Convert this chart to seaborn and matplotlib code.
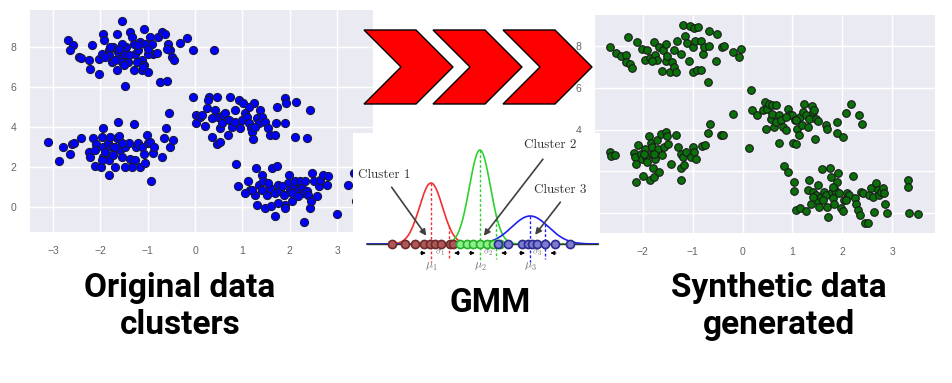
import numpy as np
import pandas as pd
import matplotlib
matplotlib.use("Agg")
import matplotlib.pyplot as plt
import seaborn as sns
from matplotlib.patches import Polygon

# ---------------- data ----------------
# left panel: original clusters
orig_x = [-1.55,-2.68,-2.59,-2.64,-2.46,-2.41,-2.24,-2.22,-2.04,-2.17,-1.94,-1.92,-1.83,-1.82,-1.76,-1.65,-1.62,-1.58,-1.70,-1.49,
          -1.46,-1.37,-1.34,-1.30,-1.41,-1.30,-1.27,-1.20,-1.16,-1.09,-1.06,-1.13,-1.13,-0.99,-0.95,-0.92,-0.88,-0.79,-0.70,-0.63,
          -0.58,-0.54,-0.49,-0.44,-0.74,-0.60,-1.48,-0.32,-0.18,-0.04,0.39,-2.04,-1.97,-1.73,-1.55,-1.65,-1.54,-1.23,-1.09,-0.99,
          -1.80,-1.60,-1.40,-1.20,-1.00,-0.80,-1.90,-1.50,-1.10,-0.60,
          -3.11,-2.87,-2.80,-2.64,-2.61,-2.55,-2.41,-2.24,-2.22,-2.15,-2.11,-2.10,-1.99,-1.97,-1.94,-1.94,-1.94,-1.90,-1.83,-1.85,
          -1.82,-1.76,-1.73,-1.69,-1.65,-1.62,-1.61,-1.58,-1.55,-1.49,-1.48,-1.39,-1.37,-1.30,-1.27,-1.25,-1.20,-1.16,-1.13,-1.09,
          -1.06,-1.01,-0.99,-0.95,-0.93,-0.90,-0.86,-0.70,-0.65,-0.61,-0.56,-0.53,-0.46,-1.97,-1.69,-2.11,-1.80,-1.55,-1.34,
          -0.04,0.01,0.01,0.11,0.21,0.30,0.35,0.42,0.46,0.46,0.48,0.53,0.53,0.56,0.60,0.63,0.69,0.72,0.74,0.77,
          0.85,0.93,0.95,0.99,1.02,1.06,1.09,1.13,1.18,1.21,1.23,1.25,1.30,1.34,1.37,1.41,1.48,1.54,1.58,1.68,
          1.73,1.90,1.92,1.90,2.13,2.11,2.36,2.43,1.70,0.25,0.14,0.35,0.85,1.13,1.27,0.28,
          0.86,0.90,1.11,1.16,1.27,1.28,1.30,1.34,1.41,1.44,1.48,1.51,1.58,1.61,1.63,1.68,1.69,1.73,1.76,1.80,
          1.87,1.89,1.90,1.96,1.99,2.01,2.04,2.08,2.11,2.15,2.22,2.25,2.29,2.32,2.36,2.39,2.43,2.45,2.48,2.52,
          2.57,2.61,2.64,2.71,2.78,2.80,2.31,2.99,3.24,3.35,1.06,1.21,1.55,1.83,2.04,2.18,1.76,1.41,3.42,3.40]
orig_y = [9.29,8.37,8.08,7.87,7.50,7.47,7.34,6.92,6.67,8.08,8.66,8.33,7.83,7.59,7.25,8.66,7.75,7.42,7.34,7.67,
          8.00,8.75,8.50,8.17,7.25,6.84,7.67,7.83,8.25,8.91,8.17,7.34,6.84,6.76,8.50,8.17,7.67,8.50,8.75,8.66,
          8.17,7.83,7.50,7.34,6.26,6.31,6.04,8.20,8.46,7.83,7.83,7.42,7.67,8.00,8.17,6.84,7.25,7.25,7.09,7.67,
          8.00,7.90,7.60,8.10,7.90,7.70,7.50,7.10,7.00,7.90,
          3.27,2.31,3.02,2.66,3.15,3.19,3.44,2.77,2.52,3.44,2.06,3.15,2.02,3.52,3.93,3.02,2.52,2.77,1.61,3.19,
          2.36,3.02,2.61,2.02,3.44,4.27,3.55,2.85,2.52,2.02,3.02,3.19,2.39,4.15,2.36,3.02,3.19,2.02,3.02,2.66,
          2.19,3.60,3.19,3.27,1.28,2.69,3.02,2.52,3.44,3.93,4.68,3.02,3.35,2.36,3.02,2.85,3.52,3.19,2.02,
          5.48,4.60,4.18,4.51,4.05,5.48,3.52,4.85,3.15,5.48,4.51,3.27,3.93,4.18,4.60,4.71,3.60,4.35,5.48,4.02,
          4.27,5.34,3.93,4.35,5.18,4.68,4.51,4.18,3.93,3.77,3.39,5.18,4.43,4.22,4.85,4.51,4.27,3.93,3.60,3.60,
          5.01,5.43,5.18,4.18,5.26,3.49,3.44,4.85,4.22,4.93,4.60,4.43,4.85,5.01,4.02,5.34,
          2.16,1.03,1.28,0.86,0.61,1.94,0.12,1.11,1.61,1.28,-0.05,0.61,0.95,0.03,1.94,0.70,-0.46,2.06,1.11,0.78,
          0.61,0.12,-0.05,1.20,1.61,0.86,0.28,1.11,1.28,0.78,1.28,0.95,0.70,1.28,0.78,0.61,-0.05,0.30,1.69,1.28,
          0.53,1.03,1.36,1.61,1.11,1.53,-0.76,-0.33,1.11,1.69,0.70,0.86,1.20,1.03,0.70,0.53,0.20,0.86,0.85,0.30]

# right panel: synthetic (GMM-sampled) points
synth_x = [-2.66,-2.53,-2.44,-2.34,-2.34,-2.29,-2.26,-2.22,-2.11,-2.01,-1.95,-1.91,-1.86,-1.77,-1.75,-1.71,-1.67,-1.62,-1.59,-1.54,
           -1.51,-1.46,-1.41,-1.37,-1.34,-1.37,-1.31,-1.24,-1.20,-1.15,-1.12,-1.08,-1.06,-1.00,-1.00,-0.97,-0.95,-0.90,-0.92,-0.84,
           -0.79,-0.84,-0.77,-0.70,-0.68,-0.67,-0.54,-0.52,-0.41,-0.37,-0.20,-0.08,-0.03,-1.81,-1.54,
           -2.66,-2.64,-2.56,-2.18,-2.16,-2.14,-2.13,-2.09,-2.04,-2.02,-1.99,-1.95,-1.94,-1.91,-1.87,-1.86,-1.84,-1.82,-1.81,-1.79,
           -1.77,-1.75,-1.71,-1.69,-1.67,-1.64,-1.61,-1.57,-1.53,-1.51,-1.49,-1.44,-1.33,-1.29,-1.24,-1.24,-1.24,-1.20,-1.17,-1.14,
           -1.04,-1.00,-0.97,-0.94,-0.82,-0.75,-0.70,-0.66,-0.44,-0.39,-0.20,0.13,-1.77,-1.97,
           0.17,0.19,0.28,0.40,0.44,0.47,0.50,0.54,0.57,0.60,0.60,0.64,0.67,0.68,0.74,0.74,0.77,0.82,0.87,0.92,
           0.94,1.00,1.02,1.06,1.07,1.10,1.14,1.15,1.19,1.22,1.24,1.27,1.31,1.34,1.39,1.41,1.44,1.47,1.46,1.51,
           1.67,1.69,1.89,1.89,2.01,2.07,2.18,2.34,2.40,0.87,1.07,
           0.84,0.92,1.04,1.04,1.07,1.15,1.27,1.31,1.34,1.37,1.42,1.47,1.49,1.51,1.53,1.57,1.59,1.64,1.67,1.69,
           1.71,1.75,1.77,1.79,1.81,1.84,1.86,1.89,1.91,1.94,1.97,2.01,2.04,2.09,2.14,2.22,2.26,2.28,2.31,2.36,
           2.38,2.41,2.46,2.51,2.54,2.58,2.61,2.64,2.68,2.71,2.74,2.78,2.81,2.84,2.86,2.89,3.31,3.31,3.33,3.51,
           1.41,1.81,2.07,1.61]
synth_y = [7.95,7.68,7.55,7.60,7.24,8.46,7.16,6.95,8.22,7.87,7.35,7.82,7.44,8.19,7.60,7.35,7.95,6.80,7.82,7.31,
           7.55,6.76,7.24,7.00,6.76,7.82,8.27,7.63,9.04,8.51,8.14,7.31,8.99,7.95,6.76,8.88,8.27,8.91,6.84,6.87,
           7.63,8.27,7.95,6.28,8.75,8.03,7.31,8.59,7.95,8.03,7.71,7.47,7.87,7.31,8.11,
           2.93,2.73,2.77,2.88,2.69,2.37,1.50,3.25,2.85,2.61,1.77,3.09,2.69,2.45,3.68,1.58,3.36,2.85,3.17,2.14,
           1.74,2.61,3.49,3.09,1.98,3.81,2.77,3.17,3.89,3.68,3.33,2.37,3.73,3.17,2.85,2.14,1.58,2.69,2.29,2.93,
           2.69,3.17,2.93,2.61,3.20,3.25,3.84,4.29,3.73,3.73,4.76,3.14,2.85,2.85,
           5.88,4.96,4.69,4.92,5.32,4.05,5.00,5.24,4.53,5.16,4.76,4.13,5.16,4.37,4.69,3.36,4.45,4.13,3.97,5.00,
           4.69,4.69,3.36,4.48,3.30,4.05,3.73,4.61,4.21,4.84,5.21,4.69,4.13,4.53,5.12,4.84,4.92,4.53,3.57,4.41,
           4.21,4.05,4.37,3.84,3.65,4.80,5.21,4.69,4.29,4.61,4.45,
           2.25,1.98,1.50,1.07,0.14,0.22,0.11,1.10,1.58,0.43,1.02,0.86,0.62,1.34,0.27,0.78,2.09,1.02,0.86,0.27,
           -0.18,2.18,1.74,1.02,0.70,0.43,1.10,1.50,1.90,0.94,0.22,0.11,0.62,0.97,0.86,1.77,0.70,0.43,0.14,-0.10,
           1.02,0.97,-0.46,-0.46,0.86,1.18,0.78,0.06,1.42,1.10,0.86,1.02,1.18,0.94,0.43,-0.02,1.58,1.26,-0.02,-0.05,
           0.78,1.26,0.62,0.62]

# centre diagram: 1-D Gaussian mixture
comp_names = ["Cluster 1", "Cluster 2", "Cluster 3"]
comp_mu = [0.0, 3.06, 6.2]
comp_sd = [0.72, 0.66, 1.15]
comp_peak = [61, 94, 28]
comp_sigma_mark = [1.12, 1.0, 0.94]
pts_c1 = [-2.46, -1.63, -1.0, -0.42, -0.06, 0.25, 0.63, 1.19, 1.39]
pts_c2 = [1.81, 2.23, 2.64, 3.06, 3.48, 3.89, 4.31]
pts_c3 = [4.21, 4.83, 5.67, 6.08, 6.29, 6.61, 7.13, 7.75, 8.69]

left_xticks = [-3, -2, -1, 0, 1, 2, 3]
right_xticks = [-2, -1, 0, 1, 2, 3]
yticks = [0, 2, 4, 6, 8]

# ---------------- figure ----------------
sns.set_theme(style="darkgrid")
plt.rcParams.update({
    "axes.facecolor": "#EAEAF2",
    "grid.color": "white",
    "grid.linewidth": 1.0,
    "xtick.color": "#666666",
    "ytick.color": "#666666",
    "xtick.labelsize": 7.5,
    "ytick.labelsize": 7.5,
    "xtick.major.pad": 4,
    "ytick.major.pad": 4,
    "mathtext.fontset": "cm",
})
plt.rcParams["font.family"] = ["DejaVu Sans"]

W, H = 953, 383
fig = plt.figure(figsize=(W / 100, H / 100), dpi=100)
fig.patch.set_facecolor("white")


def px_axes(x0, y0, x1, y1, **kw):
    return fig.add_axes([x0 / W, 1 - y1 / H, (x1 - x0) / W, (y1 - y0) / H], **kw)


def tick_text(v):
    return str(v).replace("-", "\u2212")


def style_panel(ax, xt):
    ax.set_xticks(xt, labels=[tick_text(v) for v in xt], family="Liberation Sans")
    ax.set_yticks(yticks, labels=[tick_text(v) for v in yticks], family="Liberation Sans")
    ax.set_xlabel("")
    ax.set_ylabel("")
    for s in ax.spines.values():
        s.set_visible(False)


# left panel
axL = px_axes(30, 10, 373, 232)
dfL = pd.DataFrame({"x": orig_x, "y": orig_y})
sns.scatterplot(data=dfL, x="x", y="y", ax=axL, color="#0000FF", s=34,
                edgecolor="#1a1a3a", linewidth=0.8, zorder=3)
axL.set_xlim(-3.49, 3.76)
axL.set_ylim(-1.25, 9.85)
style_panel(axL, left_xticks)

# right panel
axR = px_axes(595, 15, 935, 233)
dfR = pd.DataFrame({"x": synth_x, "y": synth_y})
sns.scatterplot(data=dfR, x="x", y="y", ax=axR, color="#0a700a", s=30,
                edgecolor="#1a1a1a", linewidth=0.8, zorder=3)
axR.set_xlim(-2.96, 3.86)
axR.set_ylim(-0.96, 9.5)
style_panel(axR, right_xticks)

# overlay in pixel coordinates (chevrons + captions)
ov = px_axes(0, 0, W, H, zorder=5)
ov.set_xlim(0, W)
ov.set_ylim(H, 0)
ov.axis("off")
ov.patch.set_alpha(0)


def chevron(x0, top, bot, width, depth):
    mid = (top + bot) / 2
    return [(x0, top), (x0 + width - depth, top), (x0 + width, mid),
            (x0 + width - depth, bot), (x0, bot), (x0 + depth, mid)]


for x0 in [364, 433, 503]:
    ov.add_patch(Polygon(chevron(x0, 30, 104, 89, 37), closed=True,
                         facecolor="#FF0000", edgecolor="black", linewidth=1.0))

cap_font = dict(family=["Roboto", "DejaVu Sans"],
                fontweight="bold", fontsize=24, color="black", ha="center", va="center")
ov.text(180, 288, "Original data", **cap_font)
ov.text(180, 325, "clusters", **cap_font)
ov.text(490, 303, "GMM", **cap_font)
ov.text(779, 288, "Synthetic data", **cap_font)
ov.text(779, 325, "generated", **cap_font)

# centre inset: 1-D GMM diagram
axG = px_axes(353, 133, 600, 280, zorder=6)
axG.set_facecolor("white")
axG.grid(False)
axG.set_xticks([])
axG.set_yticks([])
for s in axG.spines.values():
    s.set_visible(False)
axG.set_xlim((353 - 431) / 16, (600 - 431) / 16)
axG.set_ylim(-36, 111)

curve_cols = ["#F03030", "#30D030", "#2020F0"]
pt_face = ["#B05858", "#8CF08C", "#7C7CD0"]
pt_edge = ["#6E2A2A", "#28B028", "#2C2C90"]
xs = np.linspace(-4, 10.44, 600)
for mu, sd, pk, c in zip(comp_mu, comp_sd, comp_peak, curve_cols):
    sns.lineplot(x=xs, y=pk * np.exp(-0.5 * ((xs - mu) / sd) ** 2), ax=axG,
                 color=c, linewidth=1.2, zorder=2)
axG.plot([-4, 10.44], [0, 0], color="#333333", linewidth=1.0, zorder=3)

for i, (mu, sd, pk, sm, c) in enumerate(zip(comp_mu, comp_sd, comp_peak, comp_sigma_mark, curve_cols)):
    hsig = pk * np.exp(-0.5 * (sm / sd) ** 2)
    axG.plot([mu, mu], [pk, -18], color=c, linestyle=(0, (2, 1.5)), linewidth=1.0, zorder=2)
    axG.plot([mu + sm, mu + sm], [hsig, -15], color=c, linestyle=(0, (2, 1.5)), linewidth=1.0, zorder=2)
    axG.annotate("", xy=(mu - 0.15, -9), xytext=(mu - 0.85, -9),
                 arrowprops=dict(arrowstyle="-|>", color="black", lw=0.7, mutation_scale=6))
    axG.annotate("", xy=(mu + sm + 0.15, -9), xytext=(mu + sm + 0.85, -9),
                 arrowprops=dict(arrowstyle="-|>", color="black", lw=0.7, mutation_scale=6))
    axG.text(mu + sm / 2, -9, rf"$\sigma_{i + 1}$", fontsize=7, color="#777777",
             ha="center", va="center")
    axG.text(mu, -23, rf"$\mu_{i + 1}$", fontsize=8.5, color="#777777", ha="center", va="center")

for pts, fc, ec in zip([pts_c1, pts_c2, pts_c3], pt_face, pt_edge):
    sns.scatterplot(x=pts, y=[0] * len(pts), ax=axG, color=fc, edgecolor=ec,
                    linewidth=1.2, s=34, zorder=4)

lab_font = dict(family=["cmr10", "DejaVu Serif"], fontsize=9.5, color="#333333",
                ha="center", va="center")
label_pos = [(-2.9, 69), (7.44, 99), (8.1, 54)]
arrow_from = [(-2.56, 59), (7.1, 87), (8.19, 44)]
arrow_to = [(-0.19, 6), (3.19, 6), (6.4, 7)]
for name, lp, af, at in zip(comp_names, label_pos, arrow_from, arrow_to):
    axG.text(lp[0], lp[1], name, **lab_font)
    axG.annotate("", xy=at, xytext=af,
                 arrowprops=dict(arrowstyle="-|>", color="#404040", lw=1.2, mutation_scale=9))

fig.savefig("out.png", dpi=100, facecolor="white")
